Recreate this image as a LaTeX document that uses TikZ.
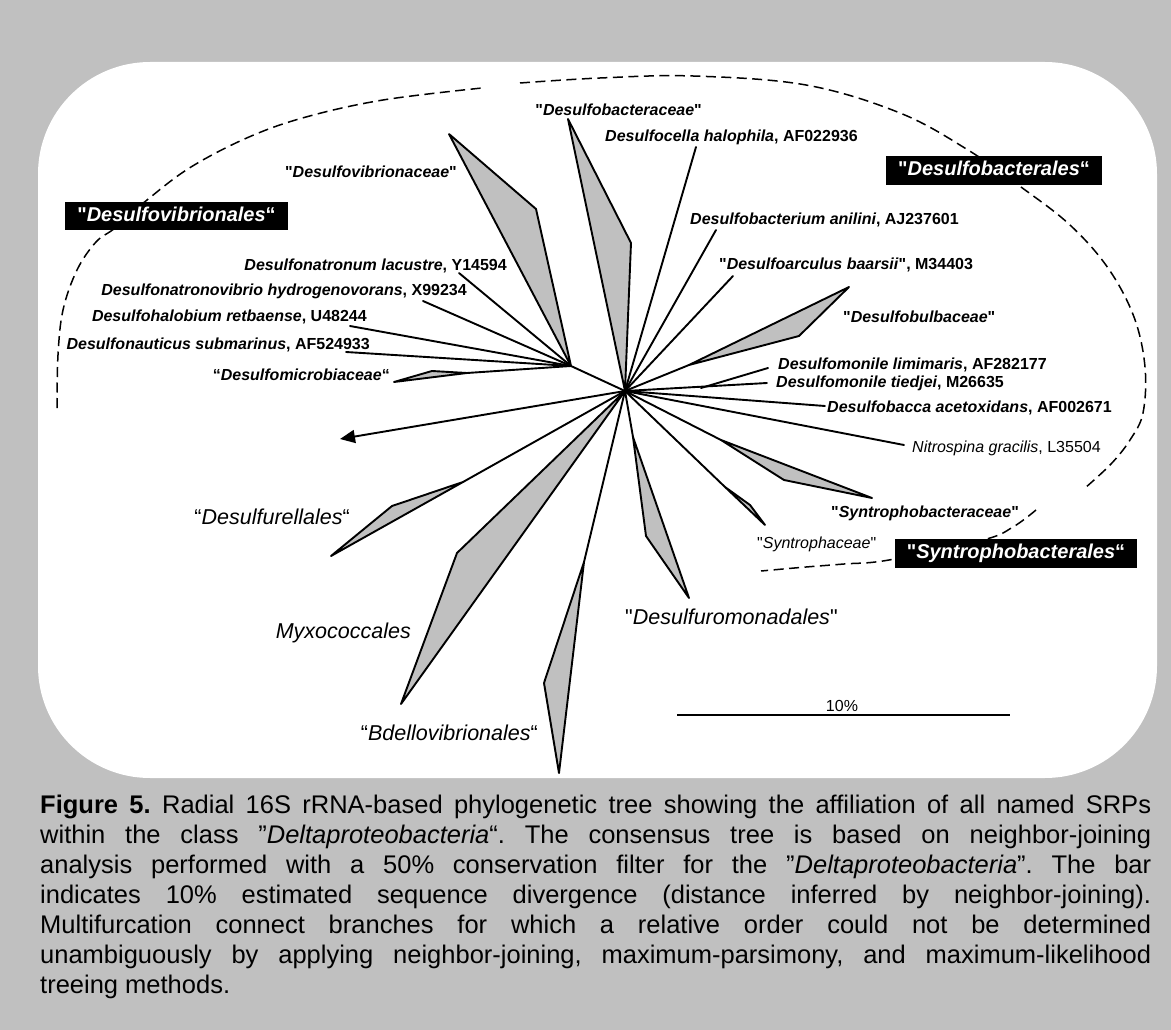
\documentclass[tikz,border=0pt]{standalone}
\usepackage{fontspec}
\setmainfont{Liberation Sans}[Ligatures=TeXOff]
\usetikzlibrary{arrows.meta}
\definecolor{panelgray}{RGB}{192,192,192}
\definecolor{cladefill}{RGB}{192,192,192}

\begin{document}
\begin{tikzpicture}[x=1pt,y=-1pt,
  branch/.style={line width=1.9pt, line join=round, line cap=round},
  clade/.style={branch, fill=cladefill},
  taxon/.style={font=\fontsize{16}{19}\selectfont\bfseries, inner sep=0pt},
  taxonthin/.style={font=\fontsize{16}{19}\selectfont, inner sep=0pt},
  order/.style={font=\fontsize{21.5}{25}\selectfont\itshape, inner sep=0pt},
  orderbox/.style={fill=black, text=white, font=\fontsize{20}{24}\selectfont\bfseries,
                   inner xsep=12pt, inner ysep=4.5pt, text height=15pt, text depth=4.5pt},
  boundary/.style={line width=1.5pt, dash pattern=on 10pt off 5.5pt},
  captiontext/.style={font=\fontsize{25.5}{30}\selectfont\frenchspacing, inner sep=0pt,
                      text width=1111pt, align=justify}
]
% panel and frame
\useasboundingbox (0,0) rectangle (1171,1030);
\fill[panelgray] (0,0) rectangle (1171,1030);
\fill[white, rounded corners=112pt] (38,62) rectangle (1157,778);

% order boundaries
\draw[boundary] plot[smooth, tension=0.6] coordinates {(57,408) (58,355) (63,310) (77,270) (96,242) (115,228) (147,200) (191,167) (249,137) (306,117) (383,100) (482,88)};
\draw[boundary] plot[smooth, tension=0.6] coordinates {(520,83) (600,78) (693,76) (806,85) (900,113) (968,150) (1021,187) (1070,225) (1108,268) (1134,317) (1145,367) (1143,413) (1130,440) (1111,464) (1085,488)};
\draw[boundary] plot[smooth, tension=0.6] coordinates {(1036,510) (1013,527) (983,540) (889,560) (844,564) (806,567) (761,571)};

% tree points
\coordinate (c) at (625,391);
\coordinate (v) at (571,366);
\coordinate (dvTip) at (449,134);
\coordinate (dvSh) at (536,209);
\coordinate (dnLac) at (459,273);
\coordinate (dnVib) at (423,301);
\coordinate (dhRet) at (350,326);
\coordinate (dnSub) at (346,352);
\coordinate (dmJ) at (467,373);
\coordinate (dmUp) at (432,371);
\coordinate (dmTip) at (394,382);
\coordinate (dbTip) at (568,119);
\coordinate (dbSh) at (631,243);
\coordinate (dcHal) at (696,147);
\coordinate (dbAni) at (716,230);
\coordinate (daBaa) at (733,276);
\coordinate (bbJ) at (689,365);
\coordinate (bbTip) at (849,287);
\coordinate (bbSh) at (799,336);
\coordinate (mSplit) at (701,388);
\coordinate (mLim) at (768,368);
\coordinate (mTie) at (767,383);
\coordinate (dBac) at (825,406);
\coordinate (nitro) at (904,445);
\coordinate (sbJ) at (721,440);
\coordinate (sbSh) at (784,480);
\coordinate (sbTip) at (872,498);
\coordinate (syJ) at (725,487);
\coordinate (sySh) at (750,505);
\coordinate (syTip) at (765,525);
\coordinate (drJ) at (633,437);
\coordinate (drSh) at (646,536);
\coordinate (drTip) at (689,598);
\coordinate (bdJ) at (584,562);
\coordinate (bdSh) at (544,683);
\coordinate (bdTip) at (559,773);
\coordinate (mxSh) at (457,553);
\coordinate (mxTip) at (401,704);
\coordinate (dfJ) at (463,482);
\coordinate (dfUp) at (392,506);
\coordinate (dfTip) at (331,556);
\coordinate (arr) at (340,439);

% Desulfovibrionales subtree
\draw[branch] (c) -- (v);
\draw[clade] (v) -- (dvTip) -- (dvSh) -- cycle;
\draw[branch] (v) -- (dnLac);
\draw[branch] (v) -- (dnVib);
\draw[branch] (v) -- (dhRet);
\draw[branch] (v) -- (dnSub);
\draw[branch] (v) -- (dmJ);
\draw[clade] (dmJ) -- (dmUp) -- (dmTip) -- cycle;

% branches from the root point
\draw[clade] (c) -- (dbTip) -- (dbSh) -- cycle;
\draw[branch] (c) -- (dcHal);
\draw[branch] (c) -- (dbAni);
\draw[branch] (c) -- (daBaa);
\draw[branch] (c) -- (bbJ);
\draw[clade] (bbJ) -- (bbTip) -- (bbSh) -- cycle;
\draw[branch] (c) -- (mTie);
\draw[branch] (mSplit) -- (mLim);
\draw[branch] (c) -- (dBac);
\draw[branch] (c) -- (nitro);
\draw[branch] (c) -- (sbJ);
\draw[clade] (sbJ) -- (sbTip) -- (sbSh) -- cycle;
\draw[branch] (c) -- (syJ);
\draw[clade] (syJ) -- (syTip) -- (sySh) -- cycle;
\draw[branch] (c) -- (drJ);
\draw[clade] (drJ) -- (drTip) -- (drSh) -- cycle;
\draw[branch] (c) -- (bdJ);
\draw[clade] (bdJ) -- (bdTip) -- (bdSh) -- cycle;
\draw[clade] (c) -- (mxTip) -- (mxSh) -- cycle;
\draw[branch] (c) -- (dfJ);
\draw[clade] (dfJ) -- (dfTip) -- (dfUp) -- cycle;
\draw[branch, -{Triangle[length=15pt,width=13pt]}] (c) -- (arr);

% taxon labels
\node[taxon, anchor=east] (lDvib) at (457,172) {"\textit{Desulfovibrionaceae}"};
\node[taxon, anchor=east] (lDbac) at (702,110) {"\textit{Desulfobacteraceae}"};
\node[taxon, anchor=west] (lDcel) at (605,137) {\textit{Desulfocella halophila}, AF022936};
\node[taxon, anchor=west] (lDani) at (690,220) {\textit{Desulfobacterium anilini}, AJ237601};
\node[taxon, anchor=west] (lDbaa) at (719,265) {"\textit{Desulfoarculus baarsii}", M34403};
\node[taxon, anchor=west] (lDbul) at (843,317) {"\textit{Desulfobulbaceae}"};
\node[taxon, anchor=west] (lDlim) at (778,365) {\textit{Desulfomonile limimaris}, AF282177};
\node[taxon, anchor=west] (lDtie) at (776,383) {\textit{Desulfomonile tiedjei}, M26635};
\node[taxon, anchor=west] (lDacc) at (827,408) {\textit{Desulfobacca acetoxidans}, AF002671};
\node[taxonthin, anchor=west] (lNit) at (912,448) {\textit{Nitrospina gracilis}, L35504};
\node[taxon, anchor=west] (lSbac) at (831,513) {"\textit{Syntrophobacteraceae}"};
\node[taxonthin, anchor=west] (lSyn) at (757,544) {"\textit{Syntrophaceae}"};
\node[taxon, anchor=east] (lDlac) at (507,266) {\textit{Desulfonatronum lacustre}, Y14594};
\node[taxon, anchor=east] (lDhyd) at (467,291) {\textit{Desulfonatronovibrio hydrogenovorans}, X99234};
\node[taxon, anchor=east] (lDret) at (367,317) {\textit{Desulfohalobium retbaense}, U48244};
\node[taxon, anchor=east] (lDsub) at (370,345) {\textit{Desulfonauticus submarinus}, AF524933};
\node[taxon, anchor=east] (lDmic) at (390,375) {“\textit{Desulfomicrobiaceae}“};

% order labels
\node[order, anchor=east] (lDfur) at (350,517) {\upshape“\itshape Desulfurellales\upshape“};
\node[order, anchor=east] (lMyx) at (411,633) {Myxococcales};
\node[order, anchor=east] (lBde) at (538,733) {\upshape“\itshape Bdellovibrionales\upshape“};
\node[order, anchor=west] (lDrom) at (625,617) {\upshape"\itshape Desulfuromonadales\upshape"};
\node[orderbox] (bDvib) at (176.5,216) {"\textit{Desulfovibrionales}“};
\node[orderbox] (bDbac) at (994,170.5) {"\textit{Desulfobacterales}“};
\node[orderbox] (bSyn) at (1016,553.5) {"\textit{Syntrophobacterales}“};

% scale bar
\coordinate (barL) at (677,715);
\coordinate (barR) at (1010,715);
\draw[line width=1.9pt] (barL) -- (barR);
\node[taxonthin] (barLab) at (842,706) {10\%};

% caption
\node[captiontext, anchor=north west] (caption) at (40,795) {\textbf{Figure 5.} Radial 16S rRNA-based phylogenetic tree showing the affiliation of all named SRPs\linebreak within the class ”\textit{Deltaproteobacteria}“. The consensus tree is based on neighbor-joining\linebreak analysis performed with a 50\% conservation filter for the ”\textit{Deltaproteobacteria}”. The bar\linebreak indicates 10\% estimated sequence divergence (distance inferred by neighbor-joining).\linebreak Multifurcation connect branches for which a relative order could not be determined\linebreak unambiguously by applying neighbor-joining, maximum-parsimony, and maximum-likelihood\linebreak treeing methods.};
\end{tikzpicture}
\end{document}
